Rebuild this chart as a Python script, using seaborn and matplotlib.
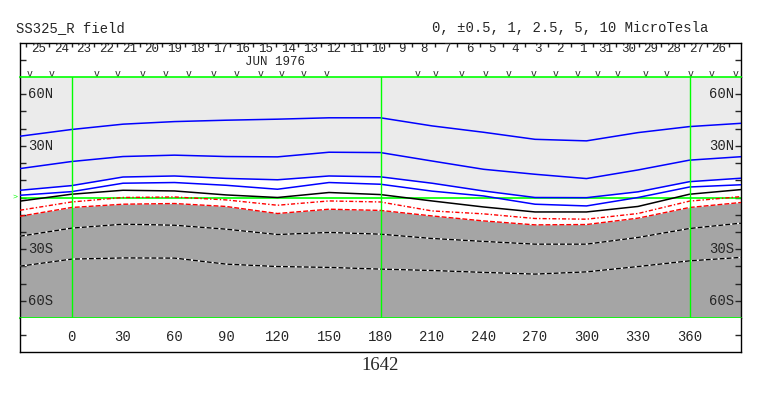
import numpy as np
import pandas as pd
import matplotlib
matplotlib.use('Agg')
import matplotlib.pyplot as plt
import seaborn as sns

# Carrington longitude samples and contour latitudes
lon = [-30, 0, 30, 60, 90, 120, 150, 180, 210, 240, 270, 300, 330, 360, 390]
lat_p10 = [35.6, 39.5, 42.6, 44.1, 44.9, 45.5, 46.3, 46.3, 41.6, 37.9, 33.8, 32.9, 37.7, 41.2, 43.1]
lat_p5 = [16.8, 20.9, 23.8, 24.6, 23.8, 23.6, 26.3, 26.1, 21.2, 16.4, 13.5, 11.0, 16.0, 21.7, 23.7]
lat_p25 = [4.2, 6.9, 11.9, 12.5, 11.1, 10.3, 12.5, 12.0, 8.3, 3.8, 0.0, -0.1, 3.3, 9.2, 11.2]
lat_p1 = [1.3, 3.4, 8.3, 8.7, 7.1, 4.8, 8.7, 7.7, 3.7, 0.9, -3.9, -4.9, 0.0, 6.1, 7.4]
lat_p05 = [-2.1, 1.9, 4.2, 3.8, 1.5, 0.0, 2.9, 1.7, -2.0, -5.5, -8.4, -8.4, -5.2, 1.9, 4.6]
lat_zero = [-7.4, -2.6, 0.0, 0.3, -1.4, -4.5, -2.0, -2.6, -7.8, -9.5, -12.2, -12.6, -9.3, -2.1, 0.5]
lat_m05 = [-10.9, -5.8, -3.9, -3.5, -5.2, -9.3, -6.8, -7.5, -10.7, -13.6, -15.9, -15.7, -12.0, -5.8, -2.9]
lat_m1 = [-22.5, -17.8, -15.5, -16.1, -18.4, -21.5, -20.3, -21.3, -23.8, -25.5, -27.1, -27.1, -23.2, -18.0, -14.9]
lat_m25 = [-39.9, -35.8, -35.1, -35.2, -38.7, -40.1, -40.6, -41.6, -42.4, -43.5, -44.5, -43.2, -40.1, -36.8, -34.8]

# observation marks ("v") along the top strip, in longitude
obs_lon = [-24.4, -11.8, 14.8, 27.0, 41.5, 55.1, 68.3, 82.6, 96.4, 109.9, 122.5, 135.5, 148.5,
           201.6, 212.1, 227.2, 241.2, 254.7, 268.9, 281.9, 294.9, 306.2, 318.1, 334.2, 346.9,
           360.4, 373.0, 386.6]

# days of June 1976 (time runs right to left)
day_labels = ['25', '24', '23', '22', '21', '20', '19', '18', '17', '16', '15', '14', '13', '12',
              '11', '10', '9', '8', '7', '6', '5', '4', '3', '2', '1', '31', '30', '29', '28',
              '27', '26']
day_start_lon = -26.3
day_step = 13.21

lon_ticks = [0, 30, 60, 90, 120, 150, 180, 210, 240, 270, 300, 330, 360]
lat_labels = {60: '60N', 30: '30N', -30: '30S', -60: '60S'}

sns.set_style("white")
plt.rcParams['font.family'] = ['Liberation Mono', 'DejaVu Sans Mono']
plt.rcParams['font.size'] = 10

W, H = 763, 396
GREEN = '#00FF00'


def box(x0, y0, x1, y1):
    return [x0 / W, 1 - y1 / H, (x1 - x0) / W, (y1 - y0) / H]


fig = plt.figure(figsize=(W / 100, H / 100), dpi=100)
ax_top = fig.add_axes(box(20, 43, 741, 77))
ax = fig.add_axes(box(20, 77, 741, 318))
ax_bot = fig.add_axes(box(20, 318, 741, 352))

for a in (ax_top, ax, ax_bot):
    a.set_xlim(-30, 390)
    for s in a.spines.values():
        s.set_color('black')
        s.set_linewidth(1)

# ── Map panel ──
ax.set_ylim(-70, 70)
ax.fill_between(lon, lat_p25, 70, color='#EBEBEB', lw=0, zorder=0)
ax.fill_between(lon, lat_m05, -70, color='#A5A5A5', lw=0, zorder=0)

ax.axhline(0, color=GREEN, lw=1.2, zorder=2)
for v in (0, 180, 360):
    ax.axvline(v, color=GREEN, lw=1.0, zorder=5)

for lats in (lat_p10, lat_p5, lat_p25, lat_p1):
    sns.lineplot(x=lon, y=lats, color='blue', lw=1.1, ax=ax, zorder=3)
sns.lineplot(x=lon, y=lat_p05, color='black', lw=1.1, ax=ax, zorder=3)
sns.lineplot(x=lon, y=lat_zero, color='red', lw=1.0, ls=(0, (3, 1.5, 1, 1.5)), ax=ax, zorder=3)
sns.lineplot(x=lon, y=lat_m05, color='red', lw=1.0, ls=(0, (3.5, 1.5)), ax=ax, zorder=3)
for lats in (lat_m1, lat_m25):
    sns.lineplot(x=lon, y=lats, color='white', lw=1.0, ax=ax, zorder=3)
    sns.lineplot(x=lon, y=lats, color='black', lw=1.0, ls=(0, (3.5, 1.5)), ax=ax, zorder=3)

ax.spines['top'].set_color(GREEN)
ax.spines['bottom'].set_color(GREEN)
ax.spines['top'].set_linewidth(1.2)
ax.spines['bottom'].set_linewidth(1.2)
ax.set_xticks([])
ax.set_yticks(range(-60, 70, 10))
ax.tick_params(axis='y', direction='in', length=4.3, width=1, left=True, right=True,
               labelleft=False, labelright=False)
for lat, lab in lat_labels.items():
    ax.text(-25.2, lat, lab, ha='left', va='center', zorder=6)
    ax.text(385.8, lat, lab, ha='right', va='center', zorder=6)
ax.text(-31.2, 0, '>', ha='right', va='center', color=GREEN, fontsize=6, clip_on=False)
ax.set_xlabel('')
ax.set_ylabel('')

# ── Top strip: dates ──
ax_top.set_ylim(0, 1)
ax_top.spines['bottom'].set_visible(False)
day_edges = [day_start_lon + i * day_step for i in range(len(day_labels) + 1)]
ax_top.set_xticks(day_edges)
ax_top.tick_params(axis='x', direction='in', length=3, width=1, top=True, bottom=False,
                   labelbottom=False, labeltop=False)
ax_top.set_yticks([0.5])
ax_top.tick_params(axis='y', direction='in', length=4.3, width=1, left=True, right=True,
                   labelleft=False)
for i, lab in enumerate(day_labels):
    ax_top.text(day_edges[i] + day_step / 2 + 0.6, 0.82, lab, ha='center', va='center',
                fontsize=9)
ax_top.text(118.5, 0.44, 'JUN 1976', ha='center', va='center', fontsize=9)
for o in obs_lon:
    ax_top.text(o, 0.09, 'v', ha='center', va='center', fontsize=7)

# ── Bottom strip: longitude ──
ax_bot.set_ylim(0, 1)
ax_bot.spines['top'].set_visible(False)
ax_bot.set_xticks(lon_ticks)
ax_bot.tick_params(axis='x', direction='in', length=5.5, width=1, labelbottom=False)
ax_bot.set_yticks([0.5])
ax_bot.tick_params(axis='y', direction='in', length=4.3, width=1, left=True, right=True,
                   labelleft=False)
for t in lon_ticks:
    ax_bot.text(t, 0.44, str(t), ha='center', va='center')

# titles
fig.text(15.7 / W, 1 - 27.7 / H, 'SS325_R field', ha='left', va='center')
fig.text(431.7 / W, 1 - 27.7 / H, '0, \u00b10.5, 1, 2.5, 5, 10 MicroTesla', ha='left',
         va='center')
fig.text(380.5 / W, 1 - 365.5 / H, '1642', ha='center', va='center', fontsize=13.5,
         family=['Liberation Serif', 'DejaVu Serif'])

plt.savefig('out.png', dpi=100)
